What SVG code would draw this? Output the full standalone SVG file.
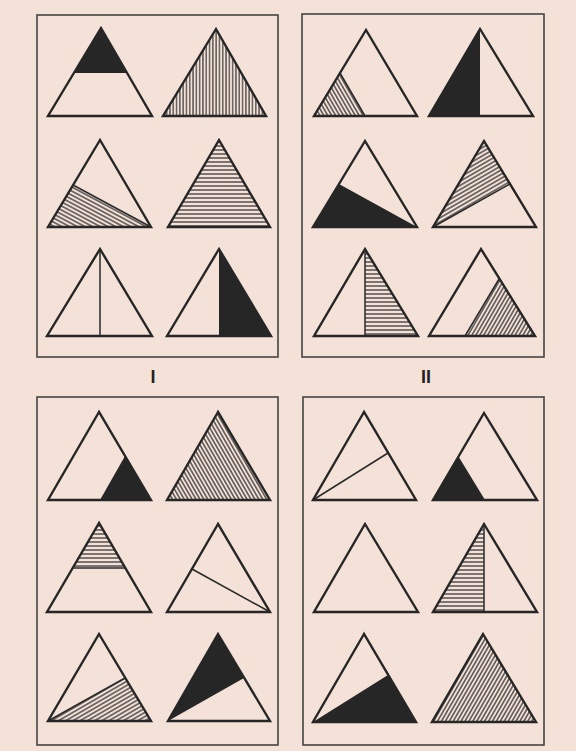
<svg xmlns="http://www.w3.org/2000/svg" width="576" height="751" viewBox="0 0 576 751">
<style>
.tri{fill:none;stroke:#262626;stroke-width:2.4}
.blk{fill:#262626}
.div{fill:none;stroke:#2a2a2a;stroke-width:1.5}
.frame{fill:none;stroke:#444;stroke-width:1.6}
.lbl{font-family:"Liberation Sans",Arial,sans-serif;font-weight:bold;font-size:18px;fill:#222;text-anchor:middle}
</style>
<defs>
<pattern id="pH" width="4" height="4" patternUnits="userSpaceOnUse"><line x1="0" y1="2" x2="4" y2="2" stroke="#2a2a2a" stroke-width="1.2"/></pattern>
<pattern id="pV" width="3.3" height="3.3" patternUnits="userSpaceOnUse" patternTransform="rotate(90)"><line x1="0" y1="1.65" x2="3.3" y2="1.65" stroke="#2a2a2a" stroke-width="1.1"/></pattern>
<pattern id="p30" width="3.6" height="3.6" patternUnits="userSpaceOnUse" patternTransform="rotate(28)"><line x1="0" y1="1.8" x2="3.6" y2="1.8" stroke="#2a2a2a" stroke-width="1.2"/></pattern>
<pattern id="pm30" width="3.6" height="3.6" patternUnits="userSpaceOnUse" patternTransform="rotate(-30)"><line x1="0" y1="1.8" x2="3.6" y2="1.8" stroke="#2a2a2a" stroke-width="1.2"/></pattern>
<pattern id="p60" width="3.4" height="3.4" patternUnits="userSpaceOnUse" patternTransform="rotate(60)"><line x1="0" y1="1.7" x2="3.4" y2="1.7" stroke="#2a2a2a" stroke-width="1.2"/></pattern>
<pattern id="pm60" width="3.4" height="3.4" patternUnits="userSpaceOnUse" patternTransform="rotate(-60)"><line x1="0" y1="1.7" x2="3.4" y2="1.7" stroke="#2a2a2a" stroke-width="1.2"/></pattern>
</defs>
<rect width="576" height="751" fill="#f4e2d8"/>

<g id="panel-I">
<rect class="frame" x="37" y="15" width="241" height="342"/>
<g id="I-1"><polygon class="blk" points="101,28 74,73 127,73"/><polygon class="tri" points="101,28 48,116 152,116"/></g>
<g id="I-2"><polygon fill="url(#pV)" points="216,29 163,116 266,116"/><polygon class="tri" points="216,29 163,116 266,116"/></g>
<g id="I-3"><polygon fill="url(#p30)" points="73,185 48,227 151,227"/><line class="div" x1="73" y1="185" x2="151" y2="227" stroke-width="1"/><polygon class="tri" points="100,140 48,227 151,227"/></g>
<g id="I-4"><polygon fill="url(#pH)" points="219,140 168,227 270,227"/><polygon class="tri" points="219,140 168,227 270,227"/></g>
<g id="I-5"><line class="div" x1="100" y1="249" x2="100" y2="336"/><polygon class="tri" points="100,249 47,336 152,336"/></g>
<g id="I-6"><polygon class="blk" points="219,249 219,336 271,336"/><polygon class="tri" points="219,249 167,336 271,336"/></g>
</g>

<g id="panel-II">
<rect class="frame" x="302" y="14" width="242" height="343"/>
<g id="II-1"><polygon fill="url(#p60)" points="340,73 314,116 365,116"/><line class="div" x1="340" y1="73" x2="365" y2="116" stroke-width="1"/><polygon class="tri" points="366,30 314,116 417,116"/></g>
<g id="II-2"><polygon class="blk" points="480,29 429,116 480,116"/><polygon class="tri" points="480,29 429,116 533,116"/></g>
<g id="II-3"><polygon class="blk" points="339,184 313,227 417,227"/><polygon class="tri" points="365,141 313,227 417,227"/></g>
<g id="II-4"><polygon fill="url(#pm30)" points="484,141 433,227 510,184"/><line class="div" x1="433" y1="227" x2="510" y2="184" stroke-width="1"/><polygon class="tri" points="484,141 433,227 536,227"/></g>
<g id="II-5"><polygon fill="url(#pH)" points="365,249 365,336 418,336"/><line class="div" x1="365" y1="249" x2="365" y2="336"/><polygon class="tri" points="365,249 314,336 418,336"/></g>
<g id="II-6"><polygon fill="url(#pm60)" points="499,279 465,336 535,336"/><line class="div" x1="499" y1="279" x2="465" y2="336" stroke-width="1"/><polygon class="tri" points="481,249 429,336 535,336"/></g>
</g>

<text class="lbl" x="153" y="383">I</text>
<text class="lbl" x="426" y="383">II</text>

<g id="panel-III">
<rect class="frame" x="37" y="397" width="241" height="348"/>
<g id="III-1"><polygon class="blk" points="125,456 100,500 151,500"/><polygon class="tri" points="99,412 48,500 151,500"/></g>
<g id="III-2"><polygon fill="url(#p60)" points="218,412 167,500 270,500"/><polygon class="tri" points="218,412 167,500 270,500"/></g>
<g id="III-3"><polygon fill="url(#pH)" points="99,523 73,568 125,568"/><line class="div" x1="73" y1="568" x2="125" y2="568" stroke-width="1"/><polygon class="tri" points="99,523 47,612 151,612"/></g>
<g id="III-4"><line class="div" x1="192" y1="569" x2="270" y2="612"/><polygon class="tri" points="218,524 167,612 270,612"/></g>
<g id="III-5"><polygon fill="url(#pm30)" points="48,721 125,678 151,721"/><line class="div" x1="48" y1="721" x2="125" y2="678" stroke-width="1"/><polygon class="tri" points="99,634 48,721 151,721"/></g>
<g id="III-6"><polygon class="blk" points="218,634 168,721 244,678"/><polygon class="tri" points="218,634 168,721 270,721"/></g>
</g>

<g id="panel-IV">
<rect class="frame" x="303" y="397" width="241" height="348"/>
<g id="IV-1"><line class="div" x1="313" y1="500" x2="388" y2="453"/><polygon class="tri" points="364,412 313,500 416,500"/></g>
<g id="IV-2"><polygon class="blk" points="433,500 458.5,456.5 485,500"/><polygon class="tri" points="484,413 433,500 537,500"/></g>
<g id="IV-3"><polygon class="tri" points="365,524 314,612 418,612"/></g>
<g id="IV-4"><polygon fill="url(#pH)" points="484,524 433,612 484,612"/><line class="div" x1="484" y1="524" x2="484" y2="612"/><polygon class="tri" points="484,524 433,612 537,612"/></g>
<g id="IV-5"><polygon class="blk" points="313,722 388,675 416,722"/><polygon class="tri" points="364,634 313,722 416,722"/></g>
<g id="IV-6"><polygon fill="url(#pm60)" points="483,634 432,722 536,722"/><polygon class="tri" points="483,634 432,722 536,722"/></g>
</g>
</svg>
